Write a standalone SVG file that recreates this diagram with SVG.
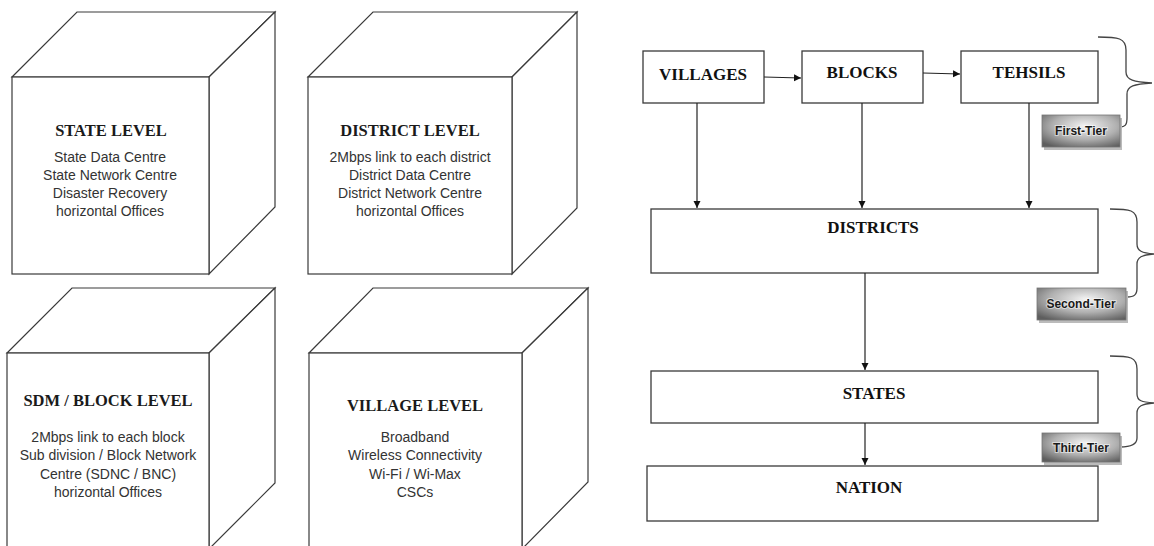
<svg xmlns="http://www.w3.org/2000/svg" width="1154" height="546" viewBox="0 0 1154 546">
<defs>
<style>
.cube{fill:#fff;stroke:#3a3a3a;stroke-width:1.2;stroke-linejoin:miter}
.hd{font-family:"Liberation Serif","Times New Roman",serif;font-weight:bold;font-size:16.5px;fill:#1a1a1a;text-anchor:middle}
.bd{font-family:"Liberation Sans",Arial,sans-serif;font-size:14px;fill:#333;text-anchor:middle}
.box{fill:#fff;stroke:#3a3a3a;stroke-width:1.3}
.bh{font-family:"Liberation Serif","Times New Roman",serif;font-weight:bold;font-size:17px;fill:#111;text-anchor:middle}
.conn{stroke:#222;stroke-width:1.2;fill:none}
.brace{stroke:#444;stroke-width:1.3;fill:none}
.tier{fill:url(#tg);stroke:#777;stroke-width:0.8}
.tshadow{fill:#bbb}
.tt{font-family:"Liberation Sans",Arial,sans-serif;font-weight:bold;font-size:12px;fill:#1a1a1a;text-anchor:middle;stroke:#fff;stroke-width:2;paint-order:stroke;stroke-opacity:0.5}
</style>
<radialGradient id="tg" cx="0.55" cy="0.35" r="0.75">
<stop offset="0" stop-color="#f4f4f4"/>
<stop offset="0.55" stop-color="#b0b0b0"/>
<stop offset="1" stop-color="#5e5e5e"/>
</radialGradient>
<marker id="ah" markerWidth="8" markerHeight="8" refX="7" refY="4" orient="auto" markerUnits="userSpaceOnUse">
<path d="M0,0.5 L7,4 L0,7.5 Z" fill="#111"/>
</marker>
</defs>
<rect width="1154" height="546" fill="#fff"/>

<g id="state-level">
<polygon class="cube" points="12,77 77,12 275,12 209,77"/>
<polygon class="cube" points="209,77 275,12 275,207 209,274"/>
<rect class="cube" x="12" y="77" width="197" height="197"/>
<text class="hd" x="111" y="136">STATE LEVEL</text>
<text class="bd" x="110" y="162">State Data Centre</text>
<text class="bd" x="110" y="180">State Network Centre</text>
<text class="bd" x="110" y="198">Disaster Recovery</text>
<text class="bd" x="110" y="216">horizontal Offices</text>
</g>

<g id="district-level">
<polygon class="cube" points="308,77 373,12 577,12 512,77"/>
<polygon class="cube" points="512,77 577,12 577,208 512,274"/>
<rect class="cube" x="308" y="77" width="204" height="197"/>
<text class="hd" x="410" y="136">DISTRICT LEVEL</text>
<text class="bd" x="410" y="162">2Mbps link to each district</text>
<text class="bd" x="410" y="180">District Data Centre</text>
<text class="bd" x="410" y="198">District Network Centre</text>
<text class="bd" x="410" y="216">horizontal Offices</text>
</g>

<g id="sdm-block-level">
<polygon class="cube" points="7,353 72,288 275,288 209,353"/>
<polygon class="cube" points="209,353 275,288 275,483 209,549"/>
<rect class="cube" x="7" y="353" width="202" height="200"/>
<text class="hd" x="108" y="406">SDM / BLOCK LEVEL</text>
<text class="bd" x="108" y="442">2Mbps link to each block</text>
<text class="bd" x="108" y="460">Sub division / Block Network</text>
<text class="bd" x="108" y="479">Centre (SDNC / BNC)</text>
<text class="bd" x="108" y="497">horizontal Offices</text>
</g>

<g id="village-level">
<polygon class="cube" points="309,353 373,288 588,288 522,353"/>
<polygon class="cube" points="522,353 588,288 588,482 522,549"/>
<rect class="cube" x="309" y="353" width="213" height="200"/>
<text class="hd" x="415" y="411">VILLAGE LEVEL</text>
<text class="bd" x="415" y="442">Broadband</text>
<text class="bd" x="415" y="460">Wireless Connectivity</text>
<text class="bd" x="415" y="479">Wi-Fi / Wi-Max</text>
<text class="bd" x="415" y="497">CSCs</text>
</g>

<g id="villages"><rect class="box" x="643" y="51" width="121" height="52"/><text class="bh" x="703" y="80">VILLAGES</text></g>
<g id="blocks"><rect class="box" x="802" y="51" width="121" height="52"/><text class="bh" x="862" y="78">BLOCKS</text></g>
<g id="tehsils"><rect class="box" x="961" y="51" width="137" height="52"/><text class="bh" x="1029" y="78">TEHSILS</text></g>
<g id="districts"><rect class="box" x="651" y="209" width="447" height="64"/><text class="bh" x="873" y="233">DISTRICTS</text></g>
<g id="states"><rect class="box" x="651" y="371" width="447" height="52"/><text class="bh" x="874" y="399">STATES</text></g>
<g id="nation"><rect class="box" x="647" y="466" width="451" height="55"/><text class="bh" x="869" y="493">NATION</text></g>

<g id="connectors">
<path class="conn" d="M764,77 L801,78" marker-end="url(#ah)"/>
<path class="conn" d="M923,73 L960,74" marker-end="url(#ah)"/>
<path class="conn" d="M697,103 L697,208" marker-end="url(#ah)"/>
<path class="conn" d="M862,103 L862,208" marker-end="url(#ah)"/>
<path class="conn" d="M1029,103 L1029,208" marker-end="url(#ah)"/>
<path class="conn" d="M865,273 L865,370" marker-end="url(#ah)"/>
<path class="conn" d="M865,423 L865,465" marker-end="url(#ah)"/>
</g>

<g id="first-tier">
<path class="brace" d="M1098,37 C1118,37 1126,38 1126,50 L1126,72 C1126,80 1134,82 1152,83 C1134,84 1127,86 1127,94 L1127,118 C1127,125 1125,127 1120,127"/>
<rect class="tshadow" x="1044" y="118" width="78" height="32"/>
<rect class="tier" x="1042" y="115" width="78" height="32"/>
<text class="tt" x="1081" y="135">First-Tier</text>
</g>
<g id="second-tier">
<path class="brace" d="M1110,209 C1130,209 1137,210 1137,222 L1137,244 C1137,251 1142,253 1154,254 C1142,255 1137,257 1137,264 L1137,288 C1137,295 1134,297 1127,297"/>
<rect class="tshadow" x="1039" y="291" width="89" height="32"/>
<rect class="tier" x="1037" y="288" width="89" height="32"/>
<text class="tt" x="1081" y="308">Second-Tier</text>
</g>
<g id="third-tier">
<path class="brace" d="M1110,356 C1130,356 1137,357 1137,369 L1137,394 C1137,401 1142,402 1154,403 C1142,404 1137,406 1137,413 L1137,438 C1137,445 1130,447 1120,447"/>
<rect class="tshadow" x="1044" y="436" width="78" height="29"/>
<rect class="tier" x="1042" y="433" width="78" height="29"/>
<text class="tt" x="1081" y="452">Third-Tier</text>
</g>
</svg>
